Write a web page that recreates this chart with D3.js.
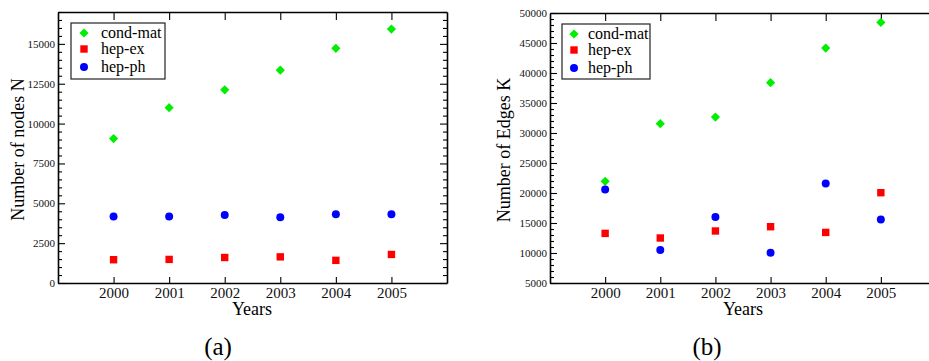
<!DOCTYPE html>
<html>
<head>
<meta charset="utf-8">
<script src="https://cdn.jsdelivr.net/npm/d3@7/dist/d3.min.js"></script>
<style>
  body { margin: 0; background: #fff; }
  svg { display: block; }
</style>
</head>
<body>
<svg id="chart" width="929" height="361"></svg>
<script>
// ---- Data ----
const years = [2000, 2001, 2002, 2003, 2004, 2005];
const seriesNames = ["cond-mat", "hep-ex", "hep-ph"];

// Panel (a): Number of nodes N
const nodesCondMat = [9060, 11000, 12120, 13350, 14720, 15930];
const nodesHepEx   = [1460, 1480, 1600, 1640, 1420, 1790];
const nodesHepPh   = [4170, 4170, 4270, 4130, 4310, 4310];

// Panel (b): Number of edges K
const edgesCondMat = [21950, 31550, 32650, 38380, 44150, 48430];
const edgesHepEx   = [13270, 12500, 13670, 14380, 13430, 20050];
const edgesHepPh   = [20600, 10500, 16000, 10050, 21600, 15600];

const yTicksA = [0, 2500, 5000, 7500, 10000, 12500, 15000];
const yTicksB = [5000, 10000, 15000, 20000, 25000, 30000, 35000, 40000, 45000, 50000];

// ---- Styles ----
const FONT = "'Liberation Serif', serif";
const colors = { "cond-mat": "#00ee00", "hep-ex": "#ff0000", "hep-ph": "#0000ff" };

const svg = d3.select("#chart");

function symbolPath(name) {
  if (name === "cond-mat") return "M0,-4.6L4.6,0L0,4.6L-4.6,0Z";
  if (name === "hep-ex") return "M-3.7,-3.7H3.7V3.7H-3.7Z";
  return d3.symbol().type(d3.symbolCircle).size(50)();
}

function addText(parent) {
  return parent.append("text").style("font-family", FONT);
}

function panel(cfg) {
  const g = svg.append("g");
  const x = d3.scaleLinear().domain([1999, 2006]).range([cfg.left, cfg.right]);
  const y = d3.scaleLinear().domain(cfg.yDomain).range([cfg.bottom, cfg.top]);

  const minors = d3.range(cfg.yDomain[0], cfg.yDomain[1] + 1, cfg.minorStep)
    .filter(v => cfg.yTicks.indexOf(v) < 0);

  const styleAxis = sel => {
    sel.attr("font-family", null);
    sel.selectAll("path.domain").attr("stroke", "#000").attr("stroke-width", 1.6);
    sel.selectAll(".tick line").attr("stroke", "#000").attr("stroke-width", 1.1);
    sel.selectAll("text").style("font-family", FONT).attr("fill", "#111");
  };

  // Left axis (major, labelled)
  const la = g.append("g").attr("transform", `translate(${cfg.left},0)`)
    .call(d3.axisLeft(y).tickValues(cfg.yTicks).tickSize(-7).tickPadding(3)
      .tickSizeOuter(0).tickFormat(d3.format("d")));
  styleAxis(la);
  la.selectAll("text").style("font-size", "11px");
  g.append("g").attr("transform", `translate(${cfg.left},0)`)
    .call(d3.axisLeft(y).tickValues(minors).tickSize(-4).tickFormat("").tickSizeOuter(0))
    .call(styleAxis).select("path.domain").remove();

  // Right axis
  g.append("g").attr("transform", `translate(${cfg.right},0)`)
    .call(d3.axisRight(y).tickValues(cfg.yTicks).tickSize(-7).tickFormat("").tickSizeOuter(0))
    .call(styleAxis);
  g.append("g").attr("transform", `translate(${cfg.right},0)`)
    .call(d3.axisRight(y).tickValues(minors).tickSize(-4).tickFormat("").tickSizeOuter(0))
    .call(styleAxis).select("path.domain").remove();

  // Bottom axis
  const ba = g.append("g").attr("transform", `translate(0,${cfg.bottom})`)
    .call(d3.axisBottom(x).tickValues(years).tickSize(-6).tickPadding(4)
      .tickSizeOuter(0).tickFormat(d3.format("d")));
  styleAxis(ba);
  ba.selectAll("text").style("font-size", "15px");

  // Top axis
  g.append("g").attr("transform", `translate(0,${cfg.top})`)
    .call(d3.axisTop(x).tickValues(years).tickSize(-8).tickFormat("").tickSizeOuter(0))
    .call(styleAxis);

  // Points
  cfg.series.forEach((vals, i) => {
    const name = seriesNames[i];
    g.append("g").selectAll("path").data(vals).join("path")
      .attr("d", symbolPath(name))
      .attr("transform", (d, j) => `translate(${x(years[j])},${y(d)})`)
      .attr("fill", colors[name]);
  });

  // Legend
  const lg = g.append("g");
  lg.append("rect")
    .attr("x", cfg.legend.x).attr("y", cfg.legend.y)
    .attr("width", cfg.legend.w).attr("height", cfg.legend.h)
    .attr("fill", "#fff").attr("stroke", "#222").attr("stroke-width", 1.2);
  const rowY = [10, 26, 44];
  seriesNames.forEach((name, i) => {
    lg.append("path").attr("d", symbolPath(name))
      .attr("transform", `translate(${cfg.legend.x + cfg.legend.mx},${cfg.legend.y + rowY[i]})`)
      .attr("fill", colors[name]);
    addText(lg)
      .attr("x", cfg.legend.x + cfg.legend.tx)
      .attr("y", cfg.legend.y + rowY[i] + 5)
      .style("font-size", "16px")
      .text(name);
  });

  // Axis titles
  addText(g)
    .attr("transform", `translate(${cfg.yTitleX},${(cfg.top + cfg.bottom) / 2 + 2}) rotate(-90)`)
    .attr("text-anchor", "middle")
    .style("font-size", "18px")
    .text(cfg.yTitle);
  addText(g)
    .attr("x", cfg.xTitleX).attr("y", 315)
    .attr("text-anchor", "middle")
    .style("font-size", "18px")
    .text("Years");
  addText(g)
    .attr("x", cfg.capX).attr("y", 355)
    .attr("text-anchor", "middle")
    .style("font-size", "25px")
    .text(cfg.caption);
}

panel({
  left: 58, right: 447, top: 12, bottom: 283,
  yDomain: [0, 17000], yTicks: yTicksA, minorStep: 500,
  series: [nodesCondMat, nodesHepEx, nodesHepPh],
  legend: { x: 71, y: 23, w: 94, h: 56, mx: 13, tx: 30 },
  yTitle: "Number of nodes N", yTitleX: 24, xTitleX: 252, capX: 218, caption: "(a)"
});

panel({
  left: 550, right: 936, top: 13, bottom: 283,
  yDomain: [5000, 50000], yTicks: yTicksB, minorStep: 1000,
  series: [edgesCondMat, edgesHepEx, edgesHepPh],
  legend: { x: 562, y: 24, w: 88, h: 55, mx: 12, tx: 26 },
  yTitle: "Number of Edges K", yTitleX: 510, xTitleX: 743, capX: 707, caption: "(b)"
});
</script>
</body>
</html>
